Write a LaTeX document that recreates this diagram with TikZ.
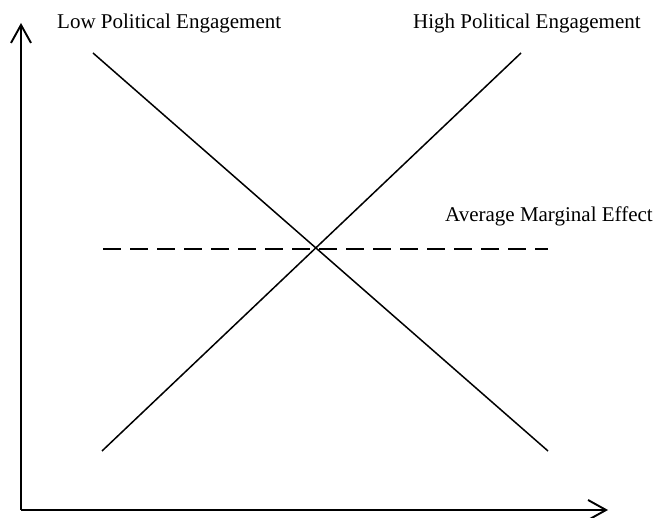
\documentclass[tikz,border=0pt]{standalone}
\usepackage{fontspec}
\setmainfont{Liberation Serif}
\usetikzlibrary{arrows.meta}

\begin{document}
\begin{tikzpicture}[x=1pt,y=-1pt,
	axis/.style={line width=1.9pt,-{Straight Barb[length=18pt,width=20pt]}},
	effect/.style={line width=1.5pt},
	lbl/.style={anchor=base west,inner sep=0pt,font=\fontsize{21}{25}\selectfont}]
	\useasboundingbox (0,0) rectangle (662,518);
	% axes
	\coordinate (origin) at (21,510);
	\coordinate (ytop) at (21,23);
	\coordinate (xend) at (608,510);
	\draw[axis] (origin) -- (ytop);
	\draw[axis] (origin) -- (xend);
	% the two marginal effect lines
	\coordinate (low0) at (93,53);
	\coordinate (low1) at (548,451);
	\coordinate (high0) at (102,451);
	\coordinate (high1) at (521,53);
	\draw[effect] (low0) -- (low1);
	\draw[effect] (high0) -- (high1);
	\coordinate (ame0) at (103,249);
	\coordinate (ame1) at (548,249);
	\draw[effect,dash pattern=on 18pt off 9pt] (ame0) -- (ame1);
	% labels
	\node[lbl] (lowlbl) at (57,29) {Low Political Engagement};
	\node[lbl] (highlbl) at (413,29) {High Political Engagement};
	\node[lbl] (amelbl) at (445,222) {Average Marginal Effect};
\end{tikzpicture}
\end{document}
